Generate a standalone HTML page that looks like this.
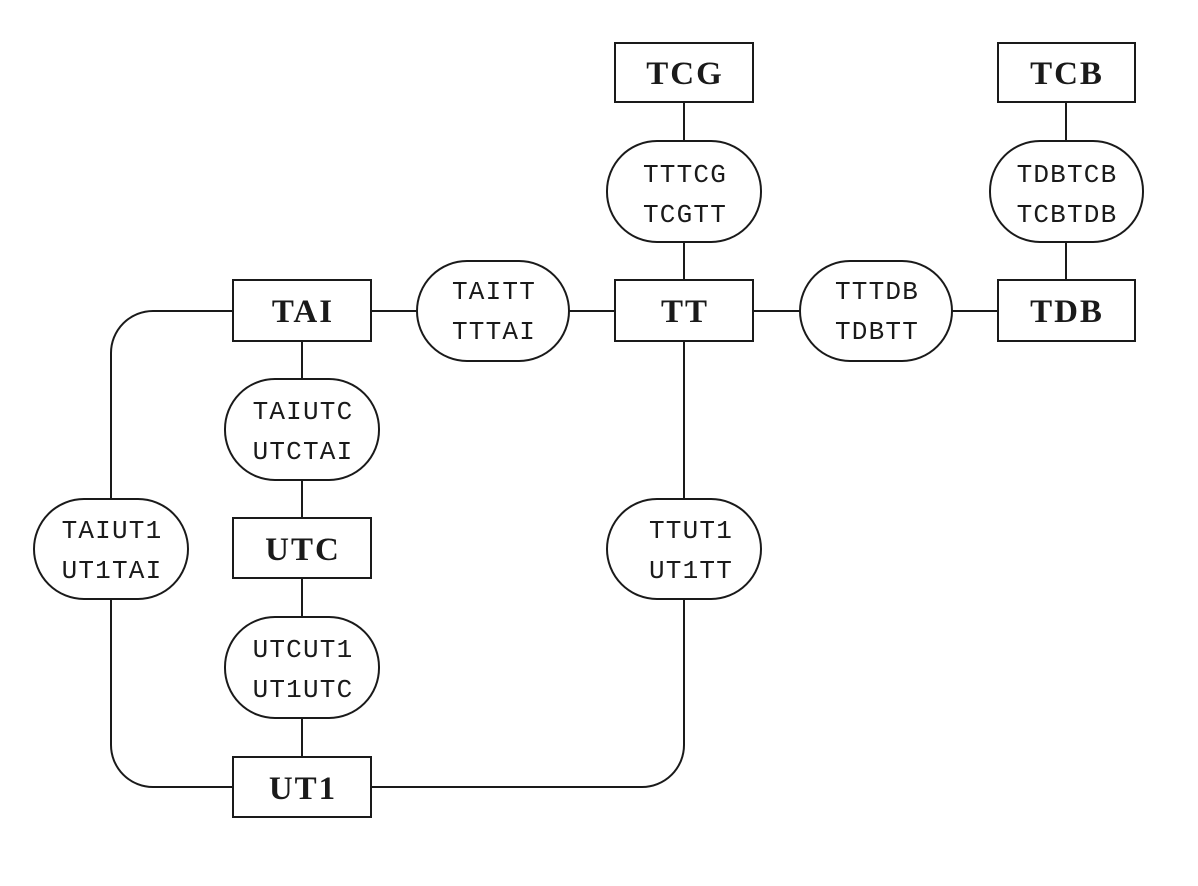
<!DOCTYPE html>
<html><head><meta charset="utf-8"><style>
html,body{margin:0;padding:0;background:#fff;}
svg{display:block;}
.b{font-family:"Liberation Serif",serif;font-weight:bold;font-size:33px;letter-spacing:2px;fill:#1a1a1a;}
.m{font-family:"Liberation Mono",monospace;font-size:26px;letter-spacing:1.2px;fill:#1a1a1a;}
</style></head><body>
<svg width="1198" height="886" viewBox="0 0 1198 886" xmlns="http://www.w3.org/2000/svg">
<g stroke="#1a1a1a" stroke-width="2" fill="none">
<line x1="684" y1="102" x2="684" y2="141"/>
<line x1="684" y1="242" x2="684" y2="280"/>
<line x1="1066" y1="102" x2="1066" y2="141"/>
<line x1="1066" y1="242" x2="1066" y2="280"/>
<line x1="371" y1="311" x2="417" y2="311"/>
<line x1="569" y1="311" x2="615" y2="311"/>
<line x1="753" y1="311" x2="800" y2="311"/>
<line x1="952" y1="311" x2="998" y2="311"/>
<line x1="302" y1="341" x2="302" y2="379"/>
<line x1="302" y1="480" x2="302" y2="518"/>
<line x1="302" y1="578" x2="302" y2="617"/>
<line x1="302" y1="718" x2="302" y2="757"/>
<line x1="684" y1="341" x2="684" y2="499"/>
<path d="M233 311 H153 A42 42 0 0 0 111 353 V499"/>
<path d="M111 599 V745 A42 42 0 0 0 153 787 H233"/>
<path d="M371 787 H642 A42 42 0 0 0 684 745 V599"/>
<rect x="615" y="43" width="138" height="59"/>
<rect x="998" y="43" width="137" height="59"/>
<rect x="233" y="280" width="138" height="61"/>
<rect x="615" y="280" width="138" height="61"/>
<rect x="998" y="280" width="137" height="61"/>
<rect x="233" y="518" width="138" height="60"/>
<rect x="233" y="757" width="138" height="60"/>
<rect x="607" y="141" width="154" height="101" rx="50" ry="50"/>
<rect x="990" y="141" width="153" height="101" rx="50" ry="50"/>
<rect x="417" y="261" width="152" height="100" rx="50" ry="50"/>
<rect x="800" y="261" width="152" height="100" rx="50" ry="50"/>
<rect x="225" y="379" width="154" height="101" rx="50" ry="50"/>
<rect x="34" y="499" width="154" height="100" rx="50" ry="50"/>
<rect x="607" y="499" width="154" height="100" rx="50" ry="50"/>
<rect x="225" y="617" width="154" height="101" rx="50" ry="50"/>
</g>
<g text-anchor="middle">
<text class="b" x="685" y="84">TCG</text>
<text class="b" x="1067" y="84">TCB</text>
<text class="b" x="303" y="322">TAI</text>
<text class="b" x="685" y="322">TT</text>
<text class="b" x="1067" y="322">TDB</text>
<text class="b" x="303" y="560">UTC</text>
<text class="b" x="303" y="799">UT1</text>
<text class="m" x="685" y="182">TTTCG</text><text class="m" x="685" y="222">TCGTT</text>
<text class="m" x="1067" y="182">TDBTCB</text><text class="m" x="1067" y="222">TCBTDB</text>
<text class="m" x="494" y="299">TAITT</text><text class="m" x="494" y="339">TTTAI</text>
<text class="m" x="877" y="299">TTTDB</text><text class="m" x="877" y="339">TDBTT</text>
<text class="m" x="303" y="419">TAIUTC</text><text class="m" x="303" y="459">UTCTAI</text>
<text class="m" x="112" y="538">TAIUT1</text><text class="m" x="112" y="578">UT1TAI</text>
<text class="m" x="691" y="538">TTUT1</text><text class="m" x="691" y="578">UT1TT</text>
<text class="m" x="303" y="657">UTCUT1</text><text class="m" x="303" y="697">UT1UTC</text>
</g>
</svg>
</body></html>
